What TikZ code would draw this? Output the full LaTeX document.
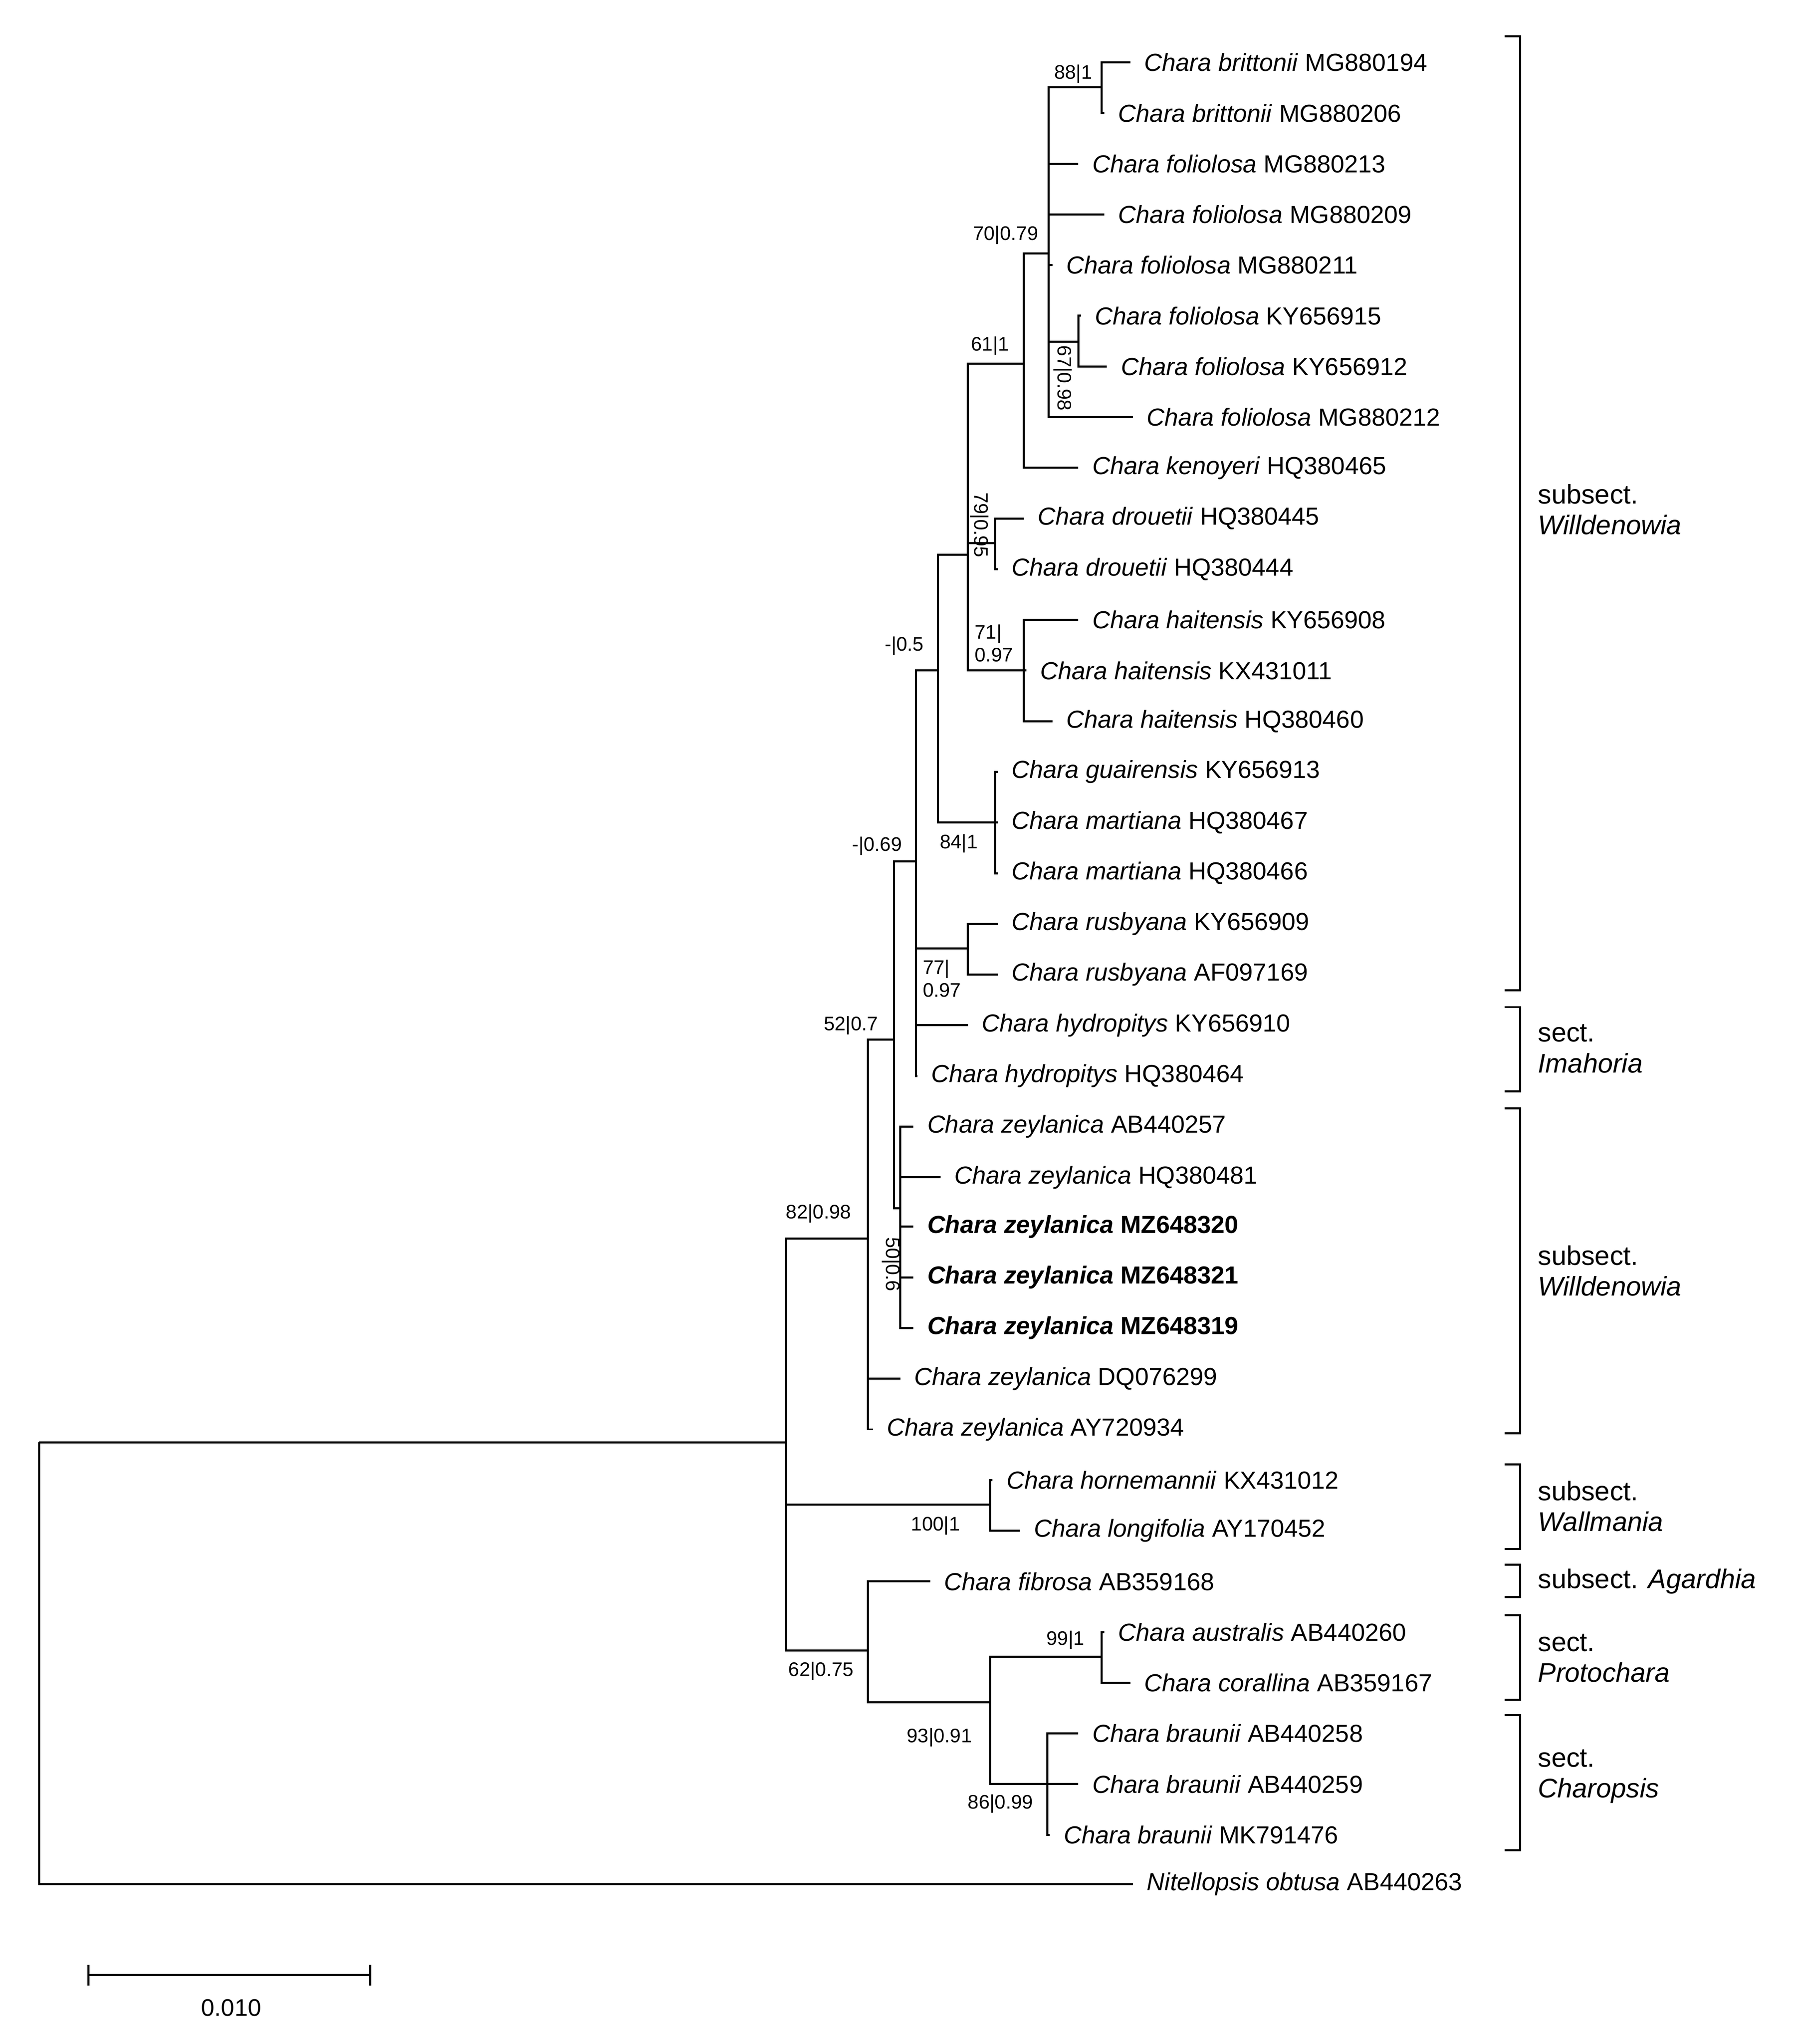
\documentclass[tikz,border=0pt]{standalone}
\usepackage{fontspec}
\setmainfont{Liberation Sans}
\begin{document}
\begin{tikzpicture}[x=0.02cm,y=-0.02cm,line width=0.9pt,
  lab/.style={anchor=west,inner sep=0pt,xshift=0.2cm,font=\fontsize{10.8}{12}\selectfont},
  sup/.style={inner sep=0pt,font=\fontsize{8.6}{10}\selectfont},
  grp/.style={anchor=west,inner sep=0pt,align=left,font=\fontsize{11.8}{13.5}\selectfont}]
\useasboundingbox (0,0) rectangle (1380,1573);
\newcommand\lf[5]{\coordinate (#1) at (#2,#3); \node[lab] at (#1) {\textit{#4} #5};}
\newcommand\lfb[5]{\coordinate (#1) at (#2,#3); \node[lab] at (#1) {\textbf{\textit{#4} #5}};}
% internal nodes
\coordinate (R) at (30,1110); \coordinate (A) at (605,1110);
\coordinate (B) at (668,953); \coordinate (W) at (762,1158); \coordinate (C) at (668,1270);
\coordinate (D) at (688,800); \coordinate (E) at (705,663); \coordinate (Z) at (693,930);
\coordinate (F) at (722,516); \coordinate (G) at (745,730);
\coordinate (H) at (745,427); \coordinate (I) at (766,633);
\coordinate (J) at (788,280); \coordinate (K) at (766,418); \coordinate (L) at (788,516);
\coordinate (M) at (807,195); \coordinate (N) at (848,67); \coordinate (O) at (830,263);
\coordinate (P) at (762,1310); \coordinate (Q) at (848,1275); \coordinate (S) at (806,1373);
% leaves
\lf{l1}{870}{48}{Chara brittonii}{MG880194}
\lf{l2}{850}{87}{Chara brittonii}{MG880206}
\lf{l3}{830}{126}{Chara foliolosa}{MG880213}
\lf{l4}{850}{165}{Chara foliolosa}{MG880209}
\lf{l5}{810}{204}{Chara foliolosa}{MG880211}
\lf{l6}{832}{243}{Chara foliolosa}{KY656915}
\lf{l7}{852}{282}{Chara foliolosa}{KY656912}
\lf{l8}{872}{321}{Chara foliolosa}{MG880212}
\lf{l9}{830}{360}{Chara kenoyeri}{HQ380465}
\lf{l10}{788}{399}{Chara drouetii}{HQ380445}
\lf{l11}{768}{438}{Chara drouetii}{HQ380444}
\lf{l12}{830}{477}{Chara haitensis}{KY656908}
\lf{l13}{790}{516}{Chara haitensis}{KX431011}
\lf{l14}{810}{555}{Chara haitensis}{HQ380460}
\lf{l15}{768}{594}{Chara guairensis}{KY656913}
\lf{l16}{768}{633}{Chara martiana}{HQ380467}
\lf{l17}{768}{672}{Chara martiana}{HQ380466}
\lf{l18}{768}{711}{Chara rusbyana}{KY656909}
\lf{l19}{768}{750}{Chara rusbyana}{AF097169}
\lf{l20}{745}{789}{Chara hydropitys}{KY656910}
\lf{l21}{706}{828}{Chara hydropitys}{HQ380464}
\lf{l22}{703}{867}{Chara zeylanica}{AB440257}
\lf{l23}{724}{906}{Chara zeylanica}{HQ380481}
\lfb{l24}{703}{944}{Chara zeylanica}{MZ648320}
\lfb{l25}{703}{983}{Chara zeylanica}{MZ648321}
\lfb{l26}{703}{1022}{Chara zeylanica}{MZ648319}
\lf{l27}{693}{1061}{Chara zeylanica}{DQ076299}
\lf{l28}{672}{1100}{Chara zeylanica}{AY720934}
\lf{l29}{764}{1139}{Chara hornemannii}{KX431012}
\lf{l30}{785}{1178}{Chara longifolia}{AY170452}
\lf{l31}{716}{1217}{Chara fibrosa}{AB359168}
\lf{l32}{850}{1256}{Chara australis}{AB440260}
\lf{l33}{870}{1295}{Chara corallina}{AB359167}
\lf{l34}{830}{1334}{Chara braunii}{AB440258}
\lf{l35}{830}{1373}{Chara braunii}{AB440259}
\lf{l36}{808}{1412}{Chara braunii}{MK791476}
\lf{l37}{872}{1450}{Nitellopsis obtusa}{AB440263}
% branches
\draw (R) -- (A); \draw (R) |- (l37);
\foreach \c in {B,W,C} \draw (A) |- (\c);
\foreach \c in {D,l27,l28} \draw (B) |- (\c);
\foreach \c in {E,Z} \draw (D) |- (\c);
\foreach \c in {F,G,l20,l21} \draw (E) |- (\c);
\foreach \c in {H,I} \draw (F) |- (\c);
\foreach \c in {J,K,L} \draw (H) |- (\c);
\foreach \c in {M,l9} \draw (J) |- (\c);
\foreach \c in {N,l3,l4,l5,O,l8} \draw (M) |- (\c);
\foreach \c in {l1,l2} \draw (N) |- (\c);
\foreach \c in {l6,l7} \draw (O) |- (\c);
\foreach \c in {l10,l11} \draw (K) |- (\c);
\foreach \c in {l12,l13,l14} \draw (L) |- (\c);
\foreach \c in {l15,l16,l17} \draw (I) |- (\c);
\foreach \c in {l18,l19} \draw (G) |- (\c);
\foreach \c in {l22,l23,l24,l25,l26} \draw (Z) |- (\c);
\foreach \c in {l29,l30} \draw (W) |- (\c);
\foreach \c in {l31,P} \draw (C) |- (\c);
\foreach \c in {Q,S} \draw (P) |- (\c);
\foreach \c in {l32,l33} \draw (Q) |- (\c);
\foreach \c in {l34,l35,l36} \draw (S) |- (\c);
% supports
\node[sup] (s1) at (826,57) {88|1};
\node[sup] (s2) at (774,181) {70|0.79};
\node[sup] (s3) at (762,266) {61|1};
\node[sup,rotate=-90] (s4) at (818,291) {67|0.98};
\node[sup,rotate=-90] (s5) at (754,404) {79|0.95};
\node[sup,align=left] (s6) at (765,495) {71|\\0.97};
\node[sup] (s7) at (696,497) {-|0.5};
\node[sup] (s8) at (738,649) {84|1};
\node[sup] (s9) at (675,651) {-|0.69};
\node[sup,align=left] (s10) at (725,753) {77|\\0.97};
\node[sup] (s11) at (655,789) {52|0.7};
\node[sup] (s12) at (630,934) {82|0.98};
\node[sup,rotate=-90] (s13) at (686,973) {50|0.6};
\node[sup] (s14) at (720,1174) {100|1};
\node[sup] (s15) at (632,1286) {62|0.75};
\node[sup] (s16) at (820,1262) {99|1};
\node[sup] (s17) at (723,1337) {93|0.91};
\node[sup] (s18) at (770,1388) {86|0.99};
% brackets
\foreach \a/\b in {28/762,775/840,853/1103,1127/1192,1204/1229,1243/1308,1320/1424}
  \draw (1158,\a) -- (1170,\a) -- (1170,\b) -- (1158,\b);
\node[grp] (g1) at (1183,392) {subsect.\\\textit{Willdenowia}};
\node[grp] (g2) at (1183,807) {sect.\\\textit{Imahoria}};
\node[grp] (g3) at (1183,978) {subsect.\\\textit{Willdenowia}};
\node[grp] (g4) at (1183,1159) {subsect.\\\textit{Wallmania}};
\node[grp] (g5) at (1183,1217) {subsect. \textit{Agardhia}};
\node[grp] (g6) at (1183,1276) {sect.\\\textit{Protochara}};
\node[grp] (g7) at (1183,1367) {sect.\\\textit{Charopsis}};
% scale bar
\coordinate (b1) at (68,1520); \coordinate (b2) at (285,1520);
\draw (b1) -- (b2);
\draw ([yshift=0.16cm]b1) -- ([yshift=-0.16cm]b1);
\draw ([yshift=0.16cm]b2) -- ([yshift=-0.16cm]b2);
\node[sup,font=\fontsize{10.5}{12}\selectfont] (sc) at (178,1545) {0.010};
\end{tikzpicture}
\end{document}
